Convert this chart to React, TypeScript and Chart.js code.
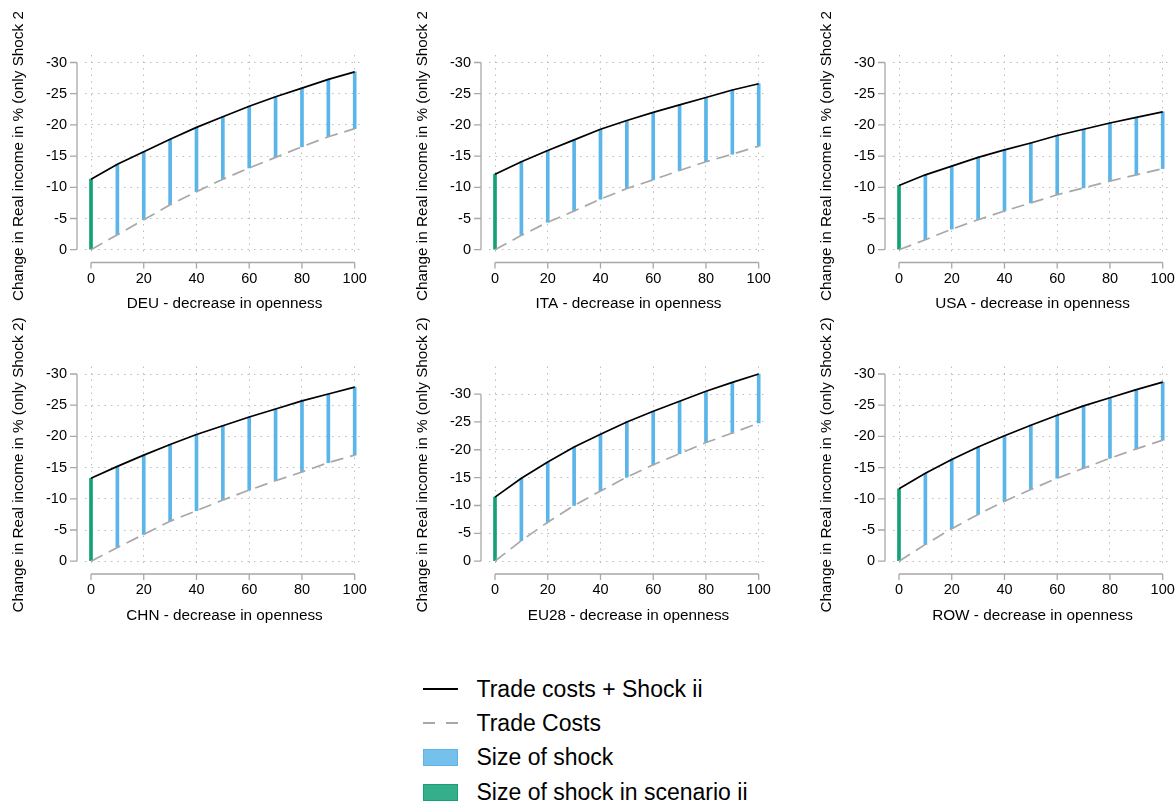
import React, { useEffect, useRef } from "react";
import { Chart, registerables } from "chart.js";

Chart.register(...registerables);

const FONT = "'Liberation Sans', Arial, Helvetica, sans-serif";

// ---------- data ----------
const openness = [0, 10, 20, 30, 40, 50, 60, 70, 80, 90, 100];

const deuTotal = [-11.3, -13.7, -15.7, -17.7, -19.6, -21.3, -23.0, -24.5, -25.9, -27.3, -28.5];
const deuTrade = [0, -2.4, -4.8, -7.2, -9.3, -11.3, -13.1, -14.8, -16.5, -18.1, -19.4];

const itaTotal = [-12.1, -14.1, -15.9, -17.6, -19.3, -20.7, -22.0, -23.2, -24.4, -25.6, -26.6];
const itaTrade = [0, -2.3, -4.4, -6.2, -8.1, -9.8, -11.2, -12.7, -14.1, -15.3, -16.6];

const usaTotal = [-10.3, -12.0, -13.4, -14.8, -16.0, -17.1, -18.3, -19.3, -20.3, -21.2, -22.1];
const usaTrade = [0, -1.6, -3.3, -4.8, -6.2, -7.5, -8.8, -9.9, -11.0, -12.0, -13.0];

const chnTotal = [-13.3, -15.2, -17.0, -18.7, -20.3, -21.7, -23.1, -24.4, -25.7, -26.8, -27.9];
const chnTrade = [0, -2.2, -4.3, -6.4, -8.1, -9.8, -11.4, -12.9, -14.3, -15.8, -17.0];

const eu28Total = [-11.5, -14.9, -17.8, -20.5, -22.8, -25.0, -26.9, -28.7, -30.5, -32.1, -33.6];
const eu28Trade = [0, -3.7, -7.0, -10.0, -12.6, -15.1, -17.3, -19.3, -21.3, -23.0, -24.8];

const rowTotal = [-11.6, -14.1, -16.3, -18.3, -20.1, -21.8, -23.4, -24.9, -26.2, -27.5, -28.7];
const rowTrade = [0, -2.7, -5.2, -7.5, -9.6, -11.5, -13.3, -14.9, -16.5, -18.0, -19.4];

const regions = ["DEU", "ITA", "USA", "CHN", "EU28", "ROW"];
const totals = [deuTotal, itaTotal, usaTotal, chnTotal, eu28Total, rowTotal];
const trades = [deuTrade, itaTrade, usaTrade, chnTrade, eu28Trade, rowTrade];

const yTitle = "Change in Real income in % (only Shock 2)";
const xTitleSuffix = " - decrease in openness";
const legendLabels = [
  "Trade costs + Shock ii",
  "Trade Costs",
  "Size of shock",
  "Size of shock in scenario ii",
];

// ---------- styles / layout ----------
const BLACK = "#000000";
const DASH_GREY = "#A8A8A8";
const BLUE = "#5BB5E8";
const GREEN = "#15A077";
const GRID = "#BDBDBD";
const AXIS = "#A8A8A8";

const COL_LEFT = [10, 414, 818];
const ROW_TOP = [12, 315];
const ROW_PAD_TOP = [43, 51.5];
const Y_SCALE_W = 75;
const X_SCALE_H = 61;
const AREA_W = 279;
const AREA_H = 197;
const CANVAS_W = Y_SCALE_W + AREA_W + 4;

const stataAxes = {
  id: "stataAxes",
  afterDraw(chart: any) {
    const { ctx, chartArea } = chart;
    const xs = chart.scales.x;
    const ys = chart.scales.y;
    const yVals = ys.ticks.map((t: any) => t.value);
    const xVals = xs.ticks.map((t: any) => t.value);
    ctx.save();
    ctx.strokeStyle = AXIS;
    ctx.lineWidth = 1.3;
    ctx.beginPath();
    const ax = chartArea.left - 8;
    ctx.moveTo(ax, ys.getPixelForValue(Math.min(...yVals)));
    ctx.lineTo(ax, ys.getPixelForValue(Math.max(...yVals)));
    yVals.forEach((v: number) => {
      const p = ys.getPixelForValue(v);
      ctx.moveTo(ax - 7, p);
      ctx.lineTo(ax, p);
    });
    const ay = chartArea.bottom + 10.5;
    ctx.moveTo(xs.getPixelForValue(Math.min(...xVals)), ay);
    ctx.lineTo(xs.getPixelForValue(Math.max(...xVals)), ay);
    xVals.forEach((v: number) => {
      const p = xs.getPixelForValue(v);
      ctx.moveTo(p, ay);
      ctx.lineTo(p, ay + 6);
    });
    ctx.stroke();
    ctx.restore();
  },
};

function Panel({ idx }: { idx: number }) {
  const ref = useRef<HTMLCanvasElement | null>(null);
  const col = idx % 3;
  const row = Math.floor(idx / 3);
  const padTop = ROW_PAD_TOP[row];
  const canvasH = Math.ceil(padTop + AREA_H + X_SCALE_H);

  useEffect(() => {
    if (!ref.current) return;
    const total = totals[idx];
    const trade = trades[idx];
    const mag = Math.max(30, ...total.map((v) => Math.abs(v)), ...trade.map((v) => Math.abs(v)));
    const upp = mag / (AREA_H - 9.8);
    const yMin = -mag - 7.5 * upp;
    const yMax = 2.3 * upp;
    const xMin = -6 * (100 / 263.7);
    const xMax = 100 + 9.3 * (100 / 263.7);

    const chart = new Chart(ref.current, {
      type: "bar",
      data: {
        datasets: [
          {
            type: "line",
            label: legendLabels[0],
            data: openness.map((x, i) => ({ x, y: total[i] })),
            borderColor: BLACK,
            borderWidth: 1.7,
            pointRadius: 0,
            tension: 0,
            order: 0,
          } as any,
          {
            type: "line",
            label: legendLabels[1],
            data: openness.map((x, i) => ({ x, y: trade[i] })),
            borderColor: DASH_GREY,
            borderDash: [13, 7],
            borderWidth: 1.7,
            pointRadius: 0,
            tension: 0,
            order: 1,
          } as any,
          {
            type: "bar",
            label: legendLabels[2],
            data: openness.slice(1).map((x, i) => ({ x, y: [trade[i + 1], total[i + 1]] })),
            backgroundColor: BLUE,
            barThickness: 3,
            grouped: false,
            order: 2,
          } as any,
          {
            type: "bar",
            label: legendLabels[3],
            data: [{ x: openness[0], y: [trade[0], total[0]] }],
            backgroundColor: GREEN,
            barThickness: 3,
            grouped: false,
            order: 3,
          } as any,
        ],
      },
      options: {
        animation: false,
        responsive: false,
        devicePixelRatio: 1,
        layout: {
          autoPadding: false,
          padding: { top: padTop, left: 0, right: 4, bottom: canvasH - padTop - AREA_H - X_SCALE_H },
        },
        plugins: { legend: { display: false }, tooltip: { enabled: false } },
        scales: {
          x: {
            type: "linear",
            min: xMin,
            max: xMax,
            offset: false,
            afterFit: (s: any) => {
              s.height = X_SCALE_H;
              s.paddingLeft = 0;
              s.paddingRight = 0;
            },
            ticks: {
              stepSize: 20,
              includeBounds: false,
              autoSkip: false,
              maxRotation: 0,
              padding: 18,
              color: "#000",
              font: { family: FONT, size: 14.5 },
              callback: (v: any) => String(v),
            },
            grid: { color: GRID, lineWidth: 1, drawTicks: false, offset: false },
            border: { display: false, dash: [1.5, 5] },
            title: {
              display: true,
              text: regions[idx] + xTitleSuffix,
              color: "#000",
              font: { family: FONT, size: 15.3 },
              padding: 0,
            },
          } as any,
          y: {
            type: "linear",
            reverse: true,
            min: yMin,
            max: yMax,
            afterFit: (s: any) => {
              s.width = Y_SCALE_W;
              s.paddingTop = 0;
              s.paddingBottom = 0;
            },
            ticks: {
              stepSize: 5,
              includeBounds: false,
              padding: 18,
              color: "#000",
              font: { family: FONT, size: 14.5 },
              callback: (v: any) => String(v),
            },
            grid: { color: GRID, lineWidth: 1, drawTicks: false },
            border: { display: false, dash: [1.5, 5] },
            title: {
              display: true,
              text: yTitle,
              color: "#000",
              font: { family: FONT, size: 15.3 },
              padding: 0,
            },
          } as any,
        },
      },
      plugins: [stataAxes],
    });
    return () => chart.destroy();
  }, [idx]);

  return (
    <canvas
      ref={ref}
      width={CANVAS_W}
      height={canvasH}
      style={{
        position: "absolute",
        left: COL_LEFT[col],
        top: ROW_TOP[row],
        width: CANVAS_W,
        height: canvasH,
      }}
    />
  );
}

function Legend() {
  const textStyle = (cy: number): React.CSSProperties => ({
    position: "absolute",
    left: 476.5,
    top: cy - 15,
    height: 30,
    lineHeight: "30px",
    fontFamily: FONT,
    fontSize: 23,
    color: "#000",
    whiteSpace: "nowrap",
  });
  const rows = [689, 722.5, 757, 792];
  return (
    <>
      <div style={{ position: "absolute", left: 423, top: rows[0] - 1.25, width: 35, height: 2.5, background: BLACK }} />
      <div style={textStyle(rows[0])}>{legendLabels[0]}</div>

      <div style={{ position: "absolute", left: 423, top: rows[1] - 1, width: 12, height: 2, background: DASH_GREY }} />
      <div style={{ position: "absolute", left: 446, top: rows[1] - 1, width: 12, height: 2, background: DASH_GREY }} />
      <div style={textStyle(rows[1])}>{legendLabels[1]}</div>

      <div
        style={{
          position: "absolute",
          left: 423,
          top: rows[2] - 8.5,
          width: 35,
          height: 17,
          boxSizing: "border-box",
          background: "#76C0EC",
          border: "1px solid " + BLUE,
        }}
      />
      <div style={textStyle(rows[2])}>{legendLabels[2]}</div>

      <div
        style={{
          position: "absolute",
          left: 423,
          top: rows[3] - 8.5,
          width: 35,
          height: 17,
          boxSizing: "border-box",
          background: "#35AE8B",
          border: "1px solid " + GREEN,
        }}
      />
      <div style={textStyle(rows[3])}>{legendLabels[3]}</div>
    </>
  );
}

export default function App() {
  return (
    <div
      style={{
        position: "absolute",
        left: 0,
        top: 0,
        width: 1176,
        height: 802,
        overflow: "hidden",
        background: "#ffffff",
      }}
    >
      {regions.map((_, i) => (
        <Panel key={i} idx={i} />
      ))}
      <Legend />
    </div>
  );
}
